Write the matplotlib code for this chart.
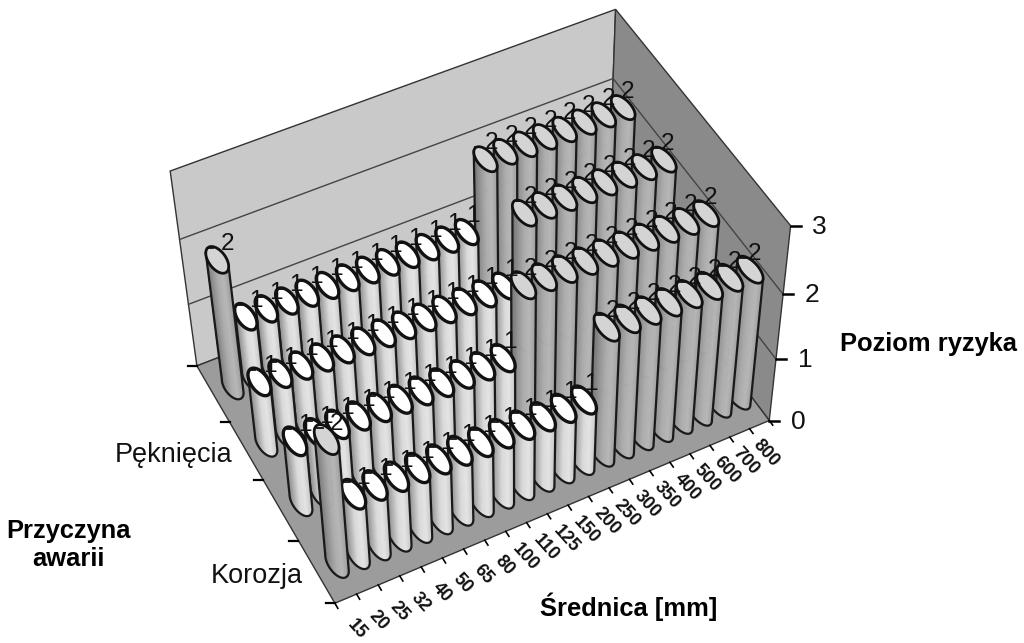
import numpy as np
from matplotlib import pyplot as plt
from matplotlib.collections import PolyCollection
from matplotlib.patches import Polygon
from mpl_toolkits.mplot3d import proj3d

srednice = ['15', '20', '25', '32', '40', '50', '65', '80', '100', '110', '125',
            '150', '200', '250', '300', '350', '400', '500', '600', '700', '800']
przyczyny = ['', 'Pęknięcia', '', 'Korozja']
poziomy = [0, 1, 2, 3]

# rows from the back wall to the front edge
rzad_1 = [2, 1, 1, 1, 1, 1, 1, 1, 1, 1, 1, 1, 1, 2, 2, 2, 2, 2, 2, 2, 2]
rzad_2 = [1, 1, 1, 1, 1, 1, 1, 1, 1, 1, 1, 1, 1, 2, 2, 2, 2, 2, 2, 2, 2]
rzad_3 = [1, 1, 1, 1, 1, 1, 1, 1, 1, 1, 1, 2, 2, 2, 2, 2, 2, 2, 2, 2, 2]
rzad_4 = [2, 1, 1, 1, 1, 1, 1, 1, 1, 1, 1, 1, 1, 2, 2, 2, 2, 2, 2, 2, 2]
rzedy = [rzad_1, rzad_2, rzad_3, rzad_4]

NX = len(srednice)
NY = len(rzedy)
NZ = poziomy[-1]

# camera: box corners (data) against where they sit in the image
kalib_3d = [(0, 0, 0), (0, NY, 0), (NX, NY, 0), (NX, 0, 0), (0, 0, 3), (NX, 0, 3), (NX, NY, 3),
            (0, 0, 2), (NX, 0, 2), (NX, NY, 2), (0, 0, 1), (NX, NY, 1)]
kalib_2d = [(195, 362), (335, 605), (768, 418), (612, 212), (172, 172), (612, 8), (793, 228),
            (180, 240), (613, 76), (783, 294), (188, 305), (775, 358)]


def kamera():
    a = []
    for (x, y, z), (u, v) in zip(kalib_3d, kalib_2d):
        a.append([x, y, z, 1, 0, 0, 0, 0, -u*x, -u*y, -u*z, -u])
        a.append([0, 0, 0, 0, x, y, z, 1, -v*x, -v*y, -v*z, -v])
    p = np.linalg.svd(np.array(a, dtype=float))[2][-1].reshape(3, 4)
    return np.array([p[0], p[1], p[2], p[2]])


M = kamera()


def rzut(x, y, z):
    x, y, z = np.broadcast_arrays(np.asarray(x, float), np.asarray(y, float), np.asarray(z, float))
    u, v, _ = proj3d.proj_transform(x, y, z, M)
    return np.column_stack([u, v])


fig = plt.figure(figsize=(10.24, 6.43), dpi=100)
ax = fig.add_axes([0, 0, 1, 1])
ax.set_xlim(0, 1024)
ax.set_ylim(643, 0)
ax.axis('off')
plt.rcParams['font.family'] = ['Liberation Sans', 'DejaVu Sans']

# walls and floor
sciana = [(0, 0, 0), (NX, 0, 0), (NX, 0, NZ), (0, 0, NZ)]
prawa = [(NX, 0, 0), (NX, NY, 0), (NX, NY, NZ), (NX, 0, NZ)]
podloga = [(0, 0, 0), (NX, 0, 0), (NX, NY, 0), (0, NY, 0)]
for pts, kol in [(sciana, '#c9c9c9'), (prawa, '#8a8a8a'), (podloga, '#9c9c9c')]:
    xs, ys, zs = zip(*pts)
    ax.add_patch(Polygon(rzut(xs, ys, zs), closed=True, fc=kol, ec='#333333', lw=1.0, zorder=1))

for z in poziomy[1:3]:
    ax.plot(*rzut([0, NX, NX], [0, 0, NY], [z, z, z]).T, color='#444444', lw=1.0, zorder=2)

# ticks
for z in poziomy:
    p = rzut(NX, NY, z)[0]
    ax.plot([p[0], p[0]+10], [p[1], p[1]], color='k', lw=1.8, zorder=2)
    ax.text(p[0]+29, p[1]+1, str(z), fontsize=19, ha='center', va='center', color='#111111')
for y in range(NY+1):
    p = rzut(0, y, 0)[0]
    ax.plot([p[0]-9, p[0]], [p[1], p[1]], color='k', lw=1.6, zorder=2)
for x in range(NX+1):
    ax.plot(*rzut([x, x], [NY, NY+0.08], [0, 0]).T, color='k', lw=1.2, zorder=2)

for i, s in enumerate(srednice):
    p = rzut(i+0.5, NY+0.42, 0)[0]
    ax.text(p[0]-5-0.35*i, p[1]+4, s, fontsize=13, fontweight='bold', rotation=-48, ha='center', va='center',
            rotation_mode='anchor', color='#111111')
for r, s in enumerate(przyczyny):
    if s:
        p = rzut(0, r+0.5, 0)[0]
        ax.text(p[0]-14, p[1]+4, s, fontsize=19.5, ha='right', va='center', color='#111111')

ax.text(928, 344, 'Poziom ryzyka', fontsize=18.4, fontweight='bold', ha='center', va='center')
ax.text(68, 545, 'Przyczyna\nawarii', fontsize=18.4, fontweight='bold', ha='center', va='center', linespacing=1.2)
ax.text(629, 607, 'Średnica [mm]', fontsize=18.4, fontweight='bold', ha='center', va='center')

RX = 0.38
RY = 0.23
t = np.linspace(0, 2*np.pi, 73)[:-1]
cien_1 = [0.50, 0.68, 0.86, 0.90, 0.78]
cien_2 = [0.45, 0.58, 0.68, 0.72, 0.62]
zo = 3


def srodek_x(c):
    # columns do not fill the box evenly, the first one sits further in
    return 0.95+c*0.9775


def slupek(c, r, h):
    global zo
    cx = srodek_x(c)
    cy = r+0.5
    gora = rzut(cx+RX*np.cos(t), cy+RY*np.sin(t), h)
    dol = rzut(cx+RX*np.cos(t), cy+RY*np.sin(t), 0)
    il, ip = gora[:, 0].argmin(), gora[:, 0].argmax()
    # lower arc between left and right extreme of the ellipse
    if gora[(il+1) % 72, 1] > gora[il, 1]:
        idx = [(il+k) % 72 for k in range((ip-il) % 72+1)]
    else:
        idx = [(il-k) % 72 for k in range((il-ip) % 72+1)]
    cien = cien_1 if h == 1 else cien_2
    ss = np.linspace(0, 1, len(cien))
    kw = []
    kol = []
    for a, b in zip(idx[:-1], idx[1:]):
        kw.append([gora[a], gora[b], dol[b], dol[a]])
        f = (gora[a, 0]-gora[il, 0])/(gora[ip, 0]-gora[il, 0])
        g = np.interp(f, ss, cien)
        kol.append((g, g, g))
    ax.add_collection(PolyCollection(kw, facecolors=kol, edgecolors=kol, linewidths=0.5, zorder=zo))
    zo += 1
    kontur = np.vstack([gora[idx[0]], dol[idx], gora[idx[-1]]])
    ax.plot(kontur[:, 0], kontur[:, 1], color='#1a1a1a', lw=1.6, zorder=zo)
    zo += 1
    ax.add_patch(Polygon(gora, closed=True, fc='white' if h == 1 else '#d4d4d4', ec='#111111',
                         lw=2.4 if h == 1 else 2.0, zorder=zo))
    zo += 1


for r, rzad in enumerate(rzedy):
    for c in range(NX-1, -1, -1):
        slupek(c, r, rzad[c])

for r, rzad in enumerate(rzedy):
    for c, h in enumerate(rzad):
        p = rzut(srodek_x(c), r+0.5, h)[0]
        ax.plot([p[0]-10, p[0]-4], [p[1]-12, p[1]-12], color='#111111', lw=1.3, zorder=zo)
        ax.text(p[0]+10-0.3*c, p[1]-16, str(h), fontsize=17.5, ha='center', va='center', color='#111111', zorder=zo)

plt.savefig('out.png', dpi=100)
